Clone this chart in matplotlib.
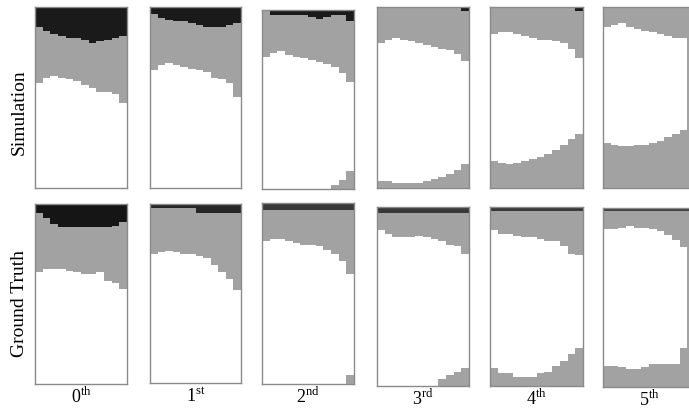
import numpy as np
import matplotlib
matplotlib.use("Agg")
import matplotlib.pyplot as plt

plt.rcParams["font.family"] = ["Liberation Serif", "DejaVu Serif"]
plt.rcParams["mathtext.fontset"] = "custom"
plt.rcParams["mathtext.rm"] = "Liberation Serif"

# stage labels (number + superscript suffix)
stage_nums = ["0", "1", "2", "3", "4", "5"]
stage_sups = ["th", "st", "nd", "rd", "th", "th"]
row_names = ["Simulation", "Ground Truth"]

# depth profiles per column (0 = top of box, 1 = bottom), 12 columns per box
sim_black = [
    [0.11, 0.13, 0.15, 0.16, 0.17, 0.17, 0.18, 0.20, 0.19, 0.18, 0.17, 0.16],
    [0.04, 0.06, 0.07, 0.08, 0.08, 0.09, 0.10, 0.11, 0.11, 0.11, 0.10, 0.09],
    [0.00, 0.03, 0.03, 0.03, 0.03, 0.03, 0.04, 0.05, 0.04, 0.03, 0.03, 0.06],
    [0, 0, 0, 0, 0, 0, 0, 0, 0, 0, 0, 0.02],
    [0, 0, 0, 0, 0, 0, 0, 0, 0, 0, 0, 0.02],
    [0, 0, 0, 0, 0, 0, 0, 0, 0, 0, 0, 0],
]
sim_white_top = [
    [0.42, 0.39, 0.38, 0.39, 0.40, 0.41, 0.43, 0.45, 0.47, 0.47, 0.48, 0.53],
    [0.35, 0.32, 0.31, 0.32, 0.33, 0.34, 0.35, 0.36, 0.39, 0.40, 0.42, 0.50],
    [0.26, 0.24, 0.23, 0.25, 0.26, 0.27, 0.28, 0.29, 0.30, 0.32, 0.35, 0.40],
    [0.20, 0.18, 0.17, 0.18, 0.19, 0.20, 0.21, 0.22, 0.23, 0.24, 0.26, 0.30],
    [0.15, 0.14, 0.14, 0.15, 0.16, 0.17, 0.18, 0.18, 0.19, 0.20, 0.23, 0.28],
    [0.11, 0.10, 0.09, 0.11, 0.12, 0.13, 0.14, 0.15, 0.16, 0.17, 0.17, 0.67],
]
sim_white_bottom = [
    [1, 1, 1, 1, 1, 1, 1, 1, 1, 1, 1, 1],
    [1, 1, 1, 1, 1, 1, 1, 1, 1, 1, 1, 1],
    [1, 1, 1, 1, 1, 1, 1, 1, 1, 0.98, 0.95, 0.90],
    [0.96, 0.96, 0.97, 0.97, 0.97, 0.97, 0.96, 0.95, 0.94, 0.92, 0.90, 0.87],
    [0.85, 0.86, 0.87, 0.86, 0.85, 0.84, 0.83, 0.81, 0.79, 0.76, 0.73, 0.70],
    [0.75, 0.76, 0.77, 0.77, 0.76, 0.76, 0.75, 0.74, 0.72, 0.70, 0.68, 0.67],
]

gt_black = [
    [0.05, 0.08, 0.11, 0.13, 0.13, 0.13, 0.13, 0.13, 0.13, 0.13, 0.12, 0.10],
    [0.025, 0.025, 0.025, 0.025, 0.025, 0.025, 0.05, 0.05, 0.05, 0.05, 0.05, 0.05],
    [0.04] * 12,
    [0.035] * 12,
    [0.025] * 12,
    [0.015] * 12,
]
gt_white_top = [
    [0.38, 0.36, 0.36, 0.36, 0.37, 0.38, 0.39, 0.39, 0.38, 0.43, 0.44, 0.47],
    [0.28, 0.27, 0.26, 0.27, 0.28, 0.28, 0.29, 0.30, 0.34, 0.38, 0.42, 0.48],
    [0.21, 0.20, 0.20, 0.21, 0.22, 0.23, 0.23, 0.24, 0.26, 0.28, 0.32, 0.39],
    [0.13, 0.15, 0.17, 0.17, 0.17, 0.16, 0.17, 0.18, 0.19, 0.21, 0.22, 0.26],
    [0.13, 0.15, 0.15, 0.16, 0.17, 0.17, 0.18, 0.19, 0.19, 0.22, 0.26, 0.27],
    [0.12, 0.12, 0.11, 0.10, 0.11, 0.11, 0.12, 0.13, 0.15, 0.18, 0.22, 0.77],
]
gt_white_bottom = [
    [1, 1, 1, 1, 1, 1, 1, 1, 1, 1, 1, 1],
    [1, 1, 1, 1, 1, 1, 1, 1, 1, 1, 1, 1],
    [1, 1, 1, 1, 1, 1, 1, 1, 1, 1, 1, 0.95],
    [1, 1, 1, 1, 1, 1, 1, 1, 0.96, 0.94, 0.92, 0.90],
    [0.90, 0.93, 0.93, 0.95, 0.95, 0.95, 0.93, 0.92, 0.89, 0.86, 0.82, 0.79],
    [0.88, 0.88, 0.89, 0.90, 0.90, 0.89, 0.87, 0.87, 0.87, 0.87, 0.78, 0.77],
]

# box placement in pixels: (left, top, right, bottom)
W, H = 689, 411
sim_boxes = [(35, 7, 127, 188), (150, 7, 241, 188), (262, 10, 354, 189),
             (377, 7, 469, 188), (490, 7, 583, 188), (603, 7, 695, 188)]
gt_boxes = [(35, 204, 127, 384), (150, 204, 241, 383), (262, 203, 354, 384),
            (377, 207, 469, 386), (490, 207, 583, 386), (603, 208, 695, 387)]
gt_band_colors = ["#151515", "#262626", "#383838", "#383838", "#383838", "#404040"]

gray = "#a2a2a2"

fig = plt.figure(figsize=(W / 100, H / 100), dpi=100)


def draw_box(box, black, wtop, wbot, band_color):
    l, t, r, b = box
    ax = fig.add_axes([l / W, 1 - b / H, (r - l) / W, (b - t) / H])
    ax.set_facecolor(gray)
    xs = np.arange(len(black) + 1)
    step = lambda v: np.append(v, v[-1])
    ax.fill_between(xs, step(wtop), step(wbot), step="post", color="white", lw=0)
    ax.fill_between(xs, 0, step(black), step="post", color=band_color, lw=0)
    ax.set_xlim(0, len(black))
    ax.set_ylim(1, 0)
    ax.set_xticks([])
    ax.set_yticks([])
    for s in ax.spines.values():
        s.set_color("#8a8a8a")
        s.set_linewidth(1.0)
    return ax


for i in range(6):
    draw_box(sim_boxes[i], sim_black[i], sim_white_top[i], sim_white_bottom[i], "#1a1a1a")
    draw_box(gt_boxes[i], gt_black[i], gt_white_top[i], gt_white_bottom[i], gt_band_colors[i])
    l, t, r, b = gt_boxes[i]
    fig.text((l + r) / 2 / W, 1 - (b + 19) / H,
             stage_nums[i] + r"$^{\mathrm{" + stage_sups[i] + "}}$",
             ha="center", va="baseline", fontsize=13)

fig.text(19 / W, 1 - 112 / H, row_names[0], rotation=90, ha="center", va="center", fontsize=14)
fig.text(20 / W, 1 - 303 / H, row_names[1], rotation=90, ha="center", va="center", fontsize=14)

fig.savefig("out.png", dpi=100)
